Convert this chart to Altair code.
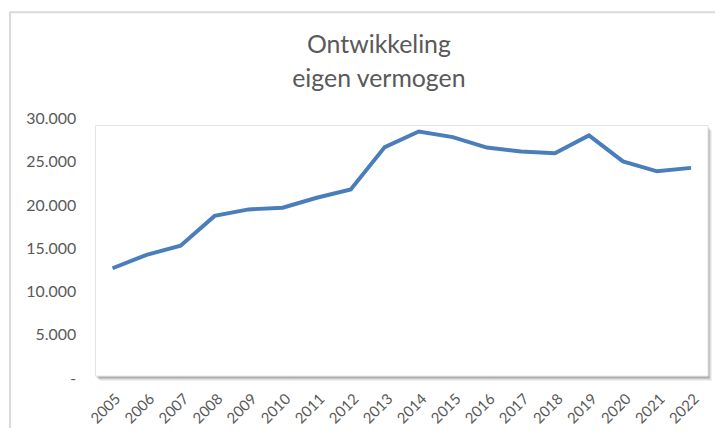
import altair as alt
import pandas as pd

years = [str(y) for y in range(2005, 2023)]
values = [12700, 14250, 15300, 18750, 19500, 19700, 20850, 21800, 26700,
          28500, 27850, 26650, 26200, 26000, 28050, 25050, 23900, 24300]
title_lines = ["Ontwikkeling", "eigen vermogen"]

df = pd.DataFrame({"jaar": years, "waarde": values})
one = alt.Data(values=[{}])

W, H = 616, 261
FONT = "Lato"
GREY = "#595959"

border = alt.Chart(one).mark_rect(fillOpacity=0, stroke="#d9d9d9", strokeWidth=2).encode(
    x=alt.value(-86), x2=alt.value(700), y=alt.value(-107), y2=alt.value(400)
)

shadows = []
for off, op in [(5, 0.06), (4, 0.08), (3, 0.1), (2, 0.12)]:
    shadows.append(
        alt.Chart(one).mark_rect(fill="black", opacity=op).encode(
            x=alt.value(off - 1), x2=alt.value(W + off - 1),
            y=alt.value(7 + off), y2=alt.value(H - 2 + off)
        )
    )

plotrect = alt.Chart(one).mark_rect(fill="white", stroke="#e3e3e3", strokeWidth=1).encode(
    x=alt.value(0), x2=alt.value(W), y=alt.value(7), y2=alt.value(H - 2)
)

line = alt.Chart(df).mark_line(color="#4a7ebb", strokeWidth=4).encode(
    x=alt.X("jaar:O", sort=years, title=None,
            axis=alt.Axis(labelAngle=-45, labelFontSize=15, labelFont=FONT,
                          labelColor=GREY, ticks=False, domain=False,
                          labelPadding=13, grid=False, zindex=2)),
    y=alt.Y("waarde:Q", title=None,
            scale=alt.Scale(domain=[0, 30000], nice=False),
            axis=alt.Axis(values=[0, 5000, 10000, 15000, 20000, 25000, 30000],
                          labelExpr="datum.value == 0 ? '-\u00a0\u00a0\u00a0' : replace(format(datum.value, ',.0f'), ',', '.')",
                          labelFontSize=16, labelFont=FONT, labelColor=GREY,
                          ticks=False, domain=False, grid=False, labelPadding=20,
                          zindex=2)),
)

titles = []
for txt, yy in zip(title_lines, [-66, -32]):
    titles.append(
        alt.Chart(one).mark_text(text=txt, font=FONT, fontSize=25, color=GREY,
                                 align="center", baseline="alphabetic").encode(
            x=alt.value(285), y=alt.value(yy)
        )
    )

chart = alt.layer(border, *shadows, plotrect, line, *titles).properties(
    width=W, height=H,
    autosize=alt.AutoSizeParams(type="none"),
    padding={"left": 88, "top": 110, "right": 7, "bottom": 49},
).configure_view(stroke=None)

chart.save("out.html", embed_options={"renderer": "svg", "actions": False})
